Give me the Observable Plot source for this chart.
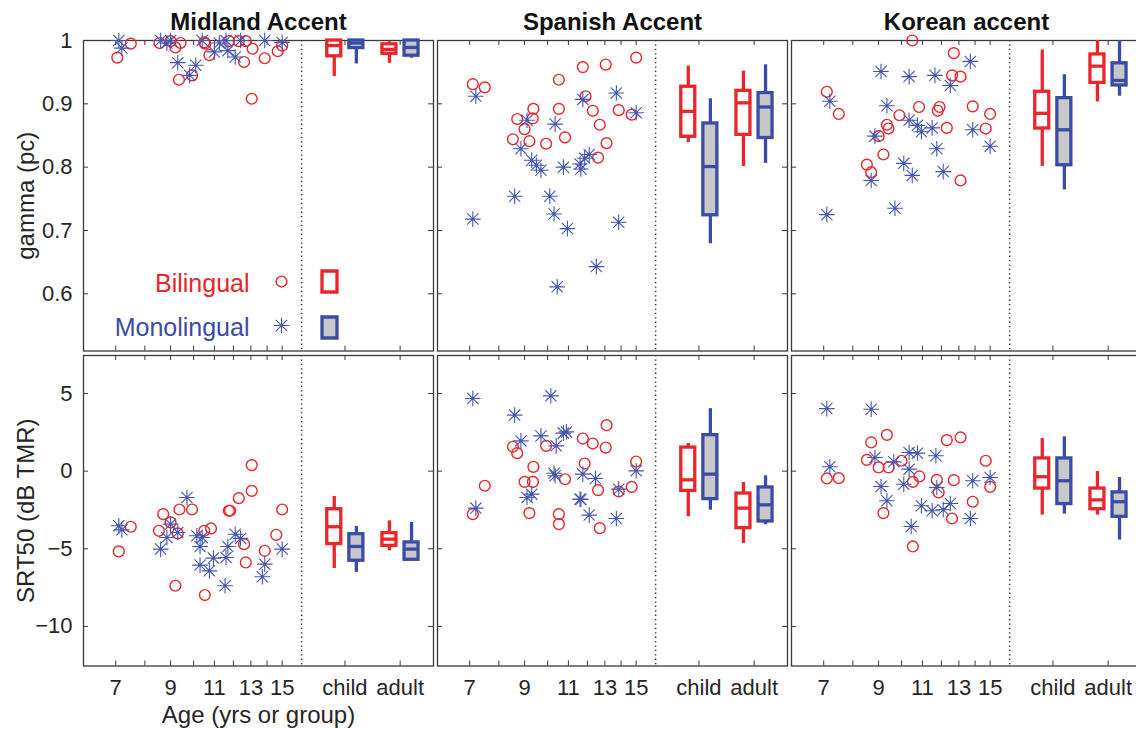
<!DOCTYPE html>
<html><head><meta charset="utf-8">
<script src="https://cdn.jsdelivr.net/npm/d3@7"></script>
<script src="https://cdn.jsdelivr.net/npm/@observablehq/plot@0.6"></script>
<style>
html,body{margin:0;padding:0;background:#fff;overflow:hidden;}
#chart{position:relative;width:1136px;height:729px;overflow:hidden;background:#fff;}
#chart svg{position:absolute;}
</style></head><body><div id="chart"></div>
<script>
// ---------- categories & tick labels ----------
const accents = ["Midland Accent", "Spanish Accent", "Korean accent"];
const measures = ["gamma (pc)", "SRT50 (dB TMR)"];
const langs = ["Bilingual", "Monolingual"];
const groups = ["child", "adult"];
const groupX = [20, 25.75];
const dividerAge = 16.4;
const ageDomain = [6.04, 30];
const ageTickMarks = [7, 8, 9, 10, 11, 12, 13, 14, 15];
const ageTickLabels = [7, 9, 11, 13, 15];
const gammaDomain = [0.5097, 1];
const gammaTicks = [0.6, 0.7, 0.8, 0.9, 1];
const gammaTickLabels = ["0.6", "0.7", "0.8", "0.9", "1"];
const srtDomain = [-12.55, 7.45];
const srtTicks = [-10, -5, 0, 5];
const srtTickLabels = ["\u221210", "\u22125", "0", "5"];
const xAxisTitle = "Age (yrs or group)";

// ---------- scatter data: [age, value] ----------
const gammaMidlandBi = [[7.05,0.973],[7.5,0.995],[8.55,0.996],[9.0,0.999],[9.2,0.989],[9.42,0.996],[9.35,0.938],[9.93,0.945],[10.5,0.997],[10.55,0.995],[10.75,0.977],[11.75,0.999],[12.3,0.999],[12.7,0.999],[13.1,0.987],[12.6,0.966],[13.85,0.972],[14.7,0.983],[15,0.992],[13.05,0.908]];
const gammaMidlandMono = [[7.1,1.0],[7.2,0.988],[8.6,1.0],[9.0,1.0],[8.85,0.996],[9.3,0.965],[10.1,0.961],[9.82,0.945],[10.4,1.0],[11.0,0.982],[11.6,1.0],[11.7,0.984],[12.1,0.974],[12.4,1.0],[13.85,1.0],[15,0.997],[11.25,0.996]];
const gammaSpanishBi = [[7.1,0.931],[7.5,0.926],[15,0.973],[11.75,0.958],[13.05,0.962],[10.53,0.938],[11.9,0.912],[9.37,0.892],[10.53,0.892],[8.7,0.876],[9.34,0.877],[9.0,0.86],[8.53,0.844],[9.2,0.841],[9.93,0.837],[10.83,0.847],[12.3,0.889],[12.7,0.867],[13.85,0.89],[14.7,0.883],[13.1,0.838],[12.6,0.815]];
const gammaSpanishMono = [[7.2,0.912],[13.7,0.917],[11.75,0.907],[15,0.886],[9.1,0.874],[10.35,0.868],[8.85,0.829],[9.3,0.811],[9.5,0.803],[9.7,0.795],[10.75,0.8],[11.6,0.805],[11.65,0.797],[12.1,0.82],[11.85,0.814],[8.6,0.754],[10.1,0.754],[10.3,0.726],[7.1,0.718],[13.85,0.713],[10.95,0.703],[12.5,0.643],[10.45,0.611]];
const gammaKoreanBi = [[10.5,1.0],[12.7,0.98],[12.6,0.945],[13.1,0.943],[7.1,0.919],[7.5,0.884],[10.83,0.895],[11.9,0.895],[11.8,0.889],[9.9,0.882],[13.85,0.896],[15,0.884],[9.35,0.867],[9.42,0.861],[9.0,0.849],[12.3,0.862],[14.7,0.861],[9.2,0.82],[8.53,0.804],[8.7,0.792],[13.1,0.779]];
const gammaKoreanMono = [[13.7,0.967],[9.1,0.951],[10.35,0.943],[11.65,0.945],[12.5,0.929],[7.2,0.904],[9.35,0.897],[10.35,0.874],[10.75,0.866],[10.95,0.856],[11.5,0.862],[13.85,0.859],[8.85,0.849],[11.75,0.829],[15,0.833],[10.1,0.806],[10.5,0.787],[12.1,0.793],[8.7,0.779],[9.7,0.735],[7.1,0.725]];
const srtMidlandBi = [[7.1,-5.17],[7.5,-3.58],[8.7,-2.77],[8.53,-3.84],[9.37,-2.47],[9.93,-2.47],[9.0,-3.3],[9.3,-4.01],[9.2,-7.38],[10.53,-7.98],[10.5,-3.84],[10.83,-3.69],[11.75,-2.55],[11.82,-2.55],[12.3,-1.74],[13.05,-1.27],[13.05,0.39],[15,-2.47],[12.6,-4.7],[12.7,-5.88],[13.85,-5.13],[14.6,-4.1]];
const srtMidlandMono = [[7.1,-3.52],[7.2,-3.78],[9.7,-1.7],[9.0,-3.41],[9.3,-3.95],[8.85,-4.27],[8.6,-5.02],[10.15,-4.16],[10.4,-4.27],[10.3,-4.85],[10.3,-6.05],[10.75,-6.42],[10.95,-5.6],[11.6,-5.56],[11.7,-4.85],[12.1,-4.06],[12.4,-4.33],[11.55,-7.38],[13.85,-5.99],[13.7,-6.8],[15,-5.02]];
const srtSpanishBi = [[13.1,2.96],[8.53,1.57],[8.7,1.16],[9.93,1.63],[11.75,2.1],[12.3,1.78],[13.05,1.52],[9.37,0.28],[11.85,0.49],[15,0.62],[7.5,-0.94],[9.0,-0.69],[9.35,-0.69],[10.83,-0.52],[12.6,-1.22],[13.85,-1.31],[14.7,-1.01],[7.1,-2.77],[9.2,-2.7],[10.53,-2.77],[10.53,-3.41],[12.7,-3.67]];
const srtSpanishMono = [[7.1,4.68],[10.15,4.85],[8.6,3.61],[8.85,1.95],[9.7,2.27],[10.75,2.45],[10.9,2.53],[10.4,1.63],[10.3,-0.13],[10.35,-0.3],[11.75,-0.19],[12.45,-0.47],[13.85,-1.16],[15,0.02],[9.3,-1.48],[9.1,-1.7],[11.6,-1.8],[11.65,-1.83],[12.1,-2.83],[13.7,-3.05],[7.2,-2.38]];
const srtKoreanBi = [[9.35,2.34],[8.7,1.85],[12.3,2.0],[13.1,2.17],[8.53,0.73],[9.0,0.24],[9.42,0.24],[10.0,0.67],[14.7,0.67],[7.1,-0.47],[7.5,-0.45],[10.53,-0.69],[10.85,-0.34],[11.75,-0.56],[12.7,-0.58],[11.85,-1.37],[15,-1.01],[13.85,-1.97],[9.2,-2.7],[12.6,-3.05],[10.53,-4.85]];
const srtKoreanMono = [[7.1,4.03],[8.7,3.99],[7.2,0.28],[8.85,0.88],[9.65,0.6],[10.35,1.2],[10.75,1.16],[11.7,0.99],[10.35,0.13],[10.1,-0.84],[9.1,-0.99],[9.35,-1.91],[11.75,-1.05],[13.85,-0.62],[15,-0.41],[10.95,-2.23],[11.5,-2.55],[12.1,-2.49],[12.5,-2.08],[13.7,-3.05],[10.45,-3.56]];

// ---------- box stats: [lo, q1, median, q3, hi] ----------
const boxGroups = ["child", "child", "adult", "adult"];
const boxLangs = ["Bilingual", "Monolingual", "Bilingual", "Monolingual"];
const boxGammaMidland = [[0.943,0.975,0.992,1.0,1.0],[0.963,0.988,0.996,1.0,1.0],[0.964,0.979,0.986,0.994,0.998],[0.972,0.976,0.989,1.0,1.0]];
const boxGammaSpanish = [[0.839,0.848,0.888,0.927,0.9595],[0.679,0.724,0.801,0.869,0.908],[0.801,0.851,0.9016,0.9205,0.9516],[0.806,0.846,0.895,0.917,0.9616]];
const boxGammaKorean = [[0.801,0.861,0.885,0.919,0.985],[0.764,0.803,0.859,0.909,0.946],[0.903,0.933,0.9595,0.978,1.0],[0.912,0.929,0.937,0.964,1.0]];
const boxSrtMidland = [[-6.27,-4.7,-3.58,-2.45,-1.63],[-6.52,-5.77,-4.85,-4.06,-3.56],[-5.13,-4.81,-4.38,-3.99,-3.2],[-5.77,-5.71,-5.02,-4.59,-3.3]];
const boxSrtSpanish = [[-2.94,-1.27,-0.56,1.52,1.78],[-2.51,-1.8,-0.19,2.32,4.03],[-4.66,-3.67,-2.38,-1.44,-0.73],[-3.45,-3.24,-2.17,-1.05,-0.3]];
const boxSrtKorean = [[-2.83,-1.12,-0.36,0.82,2.1],[-2.77,-2.12,-0.62,0.82,2.21],[-2.83,-2.45,-1.85,-1.12,-0.02],[-4.44,-2.94,-1.97,-1.37,-0.41]];

// ---------- styling ----------
const red = "#e8262b", blue = "#3a4ca6", starBlue = "#4456b0", boxGray = "#c8c8c8", ink = "#262626";
const langColor = [red, blue];
const langFill = ["#ffffff", boxGray];
const langDx = [-10.7, 11.4];
const font = "'Liberation Sans', Arial, Helvetica, sans-serif";
const frameW = 350, frameH = 310.5;
const colLeft = [83, 437, 791];
const rowTop = [40, 355];

const asterisk = {
  draw(ctx, size) {
    const r = Math.sqrt(size / Math.PI);
    const d = r * 0.72;
    ctx.moveTo(-r, 0); ctx.lineTo(r, 0);
    ctx.moveTo(0, -r); ctx.lineTo(0, r);
    ctx.moveTo(-d, -d); ctx.lineTo(d, d);
    ctx.moveTo(-d, d); ctx.lineTo(d, -d);
  }
};
const legendBox = { draw(ctx) { ctx.rect(-7.5, -10.5, 15, 21); } };

const scatter = [
  [[gammaMidlandBi, gammaMidlandMono], [gammaSpanishBi, gammaSpanishMono], [gammaKoreanBi, gammaKoreanMono]],
  [[srtMidlandBi, srtMidlandMono], [srtSpanishBi, srtSpanishMono], [srtKoreanBi, srtKoreanMono]]
];
const boxes = [
  [boxGammaMidland, boxGammaSpanish, boxGammaKorean],
  [boxSrtMidland, boxSrtSpanish, boxSrtKorean]
];

function boxRows(stats) {
  return stats.map((s, i) => ({
    group: boxGroups[i], lang: boxLangs[i],
    pos: groupX[groups.indexOf(boxGroups[i])],
    lo: s[0], q1: s[1], med: s[2], q3: s[3], hi: s[4]
  }));
}

function panel(ri, ci) {
  const isTop = ri === 0, isLeft = ci === 0;
  const yDomain = isTop ? gammaDomain : srtDomain;
  const yTicks = isTop ? gammaTicks : srtTicks;
  const yLabels = isTop ? gammaTickLabels : srtTickLabels;
  const mL = isLeft ? 83 : 2, mR = 2, mT = isTop ? 40 : 2, mB = isTop ? 2 : 64;
  const rows = boxRows(boxes[ri][ci]);
  const txt = {fontFamily: font, lineAnchor: "middle"};
  const marks = [
    Plot.frame({stroke: "#3a3a3a", strokeWidth: 1.3}),
    // inner tick marks
    Plot.ruleY(yTicks, {y: d => d, insetRight: frameW - 5, stroke: "#3a3a3a", strokeWidth: 1}),
    Plot.ruleY(yTicks, {y: d => d, insetLeft: frameW - 5, stroke: "#3a3a3a", strokeWidth: 1}),
    Plot.ruleX(ageTickMarks.concat(groupX), {x: d => d, insetBottom: frameH - 5, stroke: "#3a3a3a", strokeWidth: 1}),
    Plot.ruleX(ageTickMarks.concat(groupX), {x: d => d, insetTop: frameH - 5, stroke: "#3a3a3a", strokeWidth: 1}),
    Plot.ruleX([dividerAge], {x: d => d, stroke: "#333", strokeWidth: 1.5, strokeDasharray: "1.3 3.1"}),
    Plot.dot(scatter[ri][ci][0], {x: d => d[0], y: d => d[1], r: 5.4, stroke: red, strokeWidth: 1.4, fill: "none"}),
    Plot.dot(scatter[ri][ci][1], {x: d => d[0], y: d => d[1], r: 7.8, symbol: asterisk, stroke: starBlue, strokeWidth: 1.1, fill: "none"})
  ];
  langs.forEach((lang, li) => {
    const data = rows.filter(d => d.lang === lang);
    const c = langColor[li], dx = langDx[li];
    marks.push(
      Plot.ruleX(data, {x: "pos", y1: "q3", y2: "hi", dx, stroke: c, strokeWidth: 3.3}),
      Plot.ruleX(data, {x: "pos", y1: "lo", y2: "q1", dx, stroke: c, strokeWidth: 3.3}),
      Plot.rect(data, {x1: "pos", x2: "pos", y1: "q1", y2: "q3", insetLeft: -7, insetRight: -7, dx, fill: langFill[li], stroke: c, strokeWidth: 3.3}),
      Plot.ruleY(data, {y: "med", x1: "pos", x2: "pos", insetLeft: -7, insetRight: -7, dx, stroke: c, strokeWidth: 3.3})
    );
  });
  if (isTop) {
    marks.push(Plot.text([accents[ci]], {...txt, text: d => d, frameAnchor: "top", dy: -18, fontSize: 24, fontWeight: "bold", fill: "#111"}));
  } else {
    marks.push(Plot.text(ageTickLabels, {...txt, x: d => d, text: d => String(d), frameAnchor: "bottom", dy: 22, fontSize: 22, fill: ink}));
    marks.push(Plot.text(groups, {...txt, x: (d, i) => groupX[i], text: d => d, frameAnchor: "bottom", dy: 22, fontSize: 22, fill: ink}));
  }
  if (isLeft) {
    marks.push(Plot.text(yTicks, {...txt, y: d => d, text: (d, i) => yLabels[i], frameAnchor: "left", dx: -11, textAnchor: "end", fontSize: 22, fill: ink}));
    marks.push(Plot.text([measures[ri]], {...txt, text: d => d, frameAnchor: "left", dx: -57, rotate: -90, textAnchor: "middle", fontSize: 24, fill: ink}));
    if (!isTop) {
      marks.push(Plot.text([xAxisTitle], {...txt, text: d => d, frameAnchor: "bottom", dy: 49, textAnchor: "middle", fontSize: 24, fill: ink}));
    } else {
      // legend
      marks.push(
        Plot.text([langs[0]], {...txt, text: d => d, frameAnchor: "bottom-left", dx: 166, dy: -67.5, textAnchor: "end", fontSize: 25, fill: red}),
        Plot.text([langs[1]], {...txt, text: d => d, frameAnchor: "bottom-left", dx: 166, dy: -23.5, textAnchor: "end", fontSize: 25, fill: blue}),
        Plot.dot([langs[0]], {frameAnchor: "bottom-left", dx: 198, dy: -69.5, r: 5.4, stroke: red, strokeWidth: 1.4, fill: "none"}),
        Plot.dot([langs[1]], {frameAnchor: "bottom-left", dx: 198, dy: -25.5, r: 7.8, symbol: asterisk, stroke: starBlue, strokeWidth: 1.1, fill: "none"}),
        Plot.dot([langs[0]], {frameAnchor: "bottom-left", dx: 246, dy: -69.5, symbol: legendBox, stroke: red, strokeWidth: 3.3, fill: "#ffffff"}),
        Plot.dot([langs[1]], {frameAnchor: "bottom-left", dx: 246, dy: -23.5, symbol: legendBox, stroke: blue, strokeWidth: 3.3, fill: boxGray})
      );
    }
  }
  const svg = Plot.plot({
    width: mL + frameW + mR,
    height: mT + frameH + mB,
    marginLeft: mL, marginRight: mR, marginTop: mT, marginBottom: mB,
    style: {background: "transparent", overflow: "visible"},
    x: {type: "log", domain: ageDomain, axis: null},
    y: {domain: yDomain, axis: null},
    marks
  });
  svg.style.left = (colLeft[ci] - mL) + "px";
  svg.style.top = (rowTop[ri] - mT) + "px";
  svg.style.maxWidth = "none";
  return svg;
}

const chart = document.getElementById("chart");
for (let ri = 0; ri < 2; ri++) for (let ci = 0; ci < 3; ci++) chart.appendChild(panel(ri, ci));
</script>
</body></html>
